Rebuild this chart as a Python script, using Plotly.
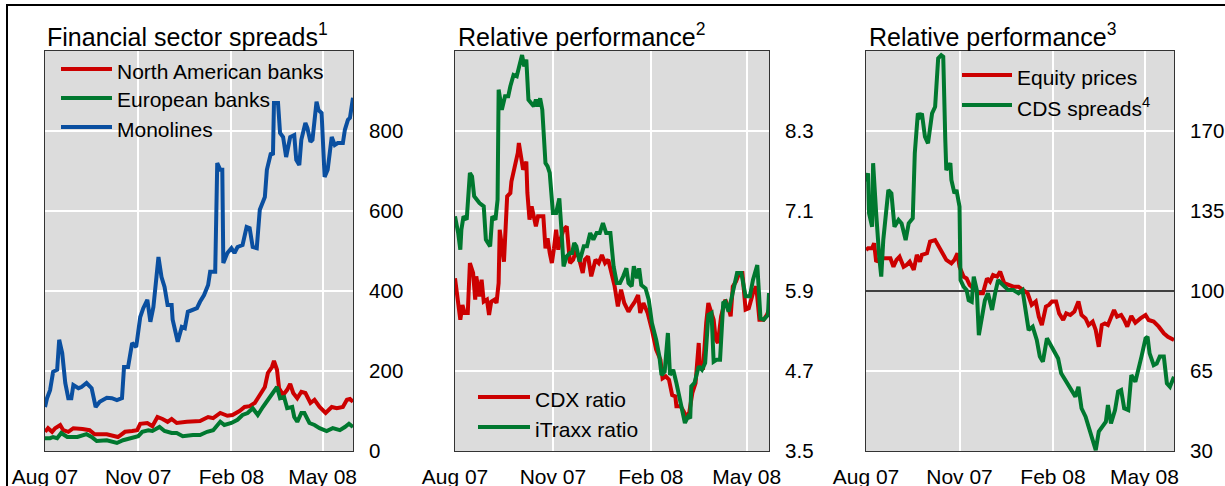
import pandas as pd
import plotly.graph_objects as go

W, H = 1225, 486
START = pd.Timestamp("2007-08-01")
FONT = "Liberation Sans, Arial, Helvetica, sans-serif"

RED = "#cc0000"
GREEN = "#00782f"
BLUE = "#0a4fa0"

# x values are days since 1 Aug 2007

# Panel 1: financial sector spreads (basis points)
na_banks_days = [0, 3, 7, 10, 15, 18, 23, 28, 37, 44,
                 49, 61, 72, 79, 86, 91, 94, 101, 106, 111,
                 116, 121, 125, 130, 140, 153, 161, 166, 173, 180,
                 185, 192, 197, 202, 207, 210, 214, 217, 220, 224,
                 226, 229, 231, 235, 239, 242, 245, 249, 253, 257,
                 262, 266, 271, 277, 283, 288, 294, 298, 301, 304]
na_banks = [48, 57, 48, 57, 65, 52, 48, 57, 55, 52,
            42, 42, 35, 48, 50, 52, 68, 70, 62, 85,
            80, 73, 80, 70, 73, 75, 85, 82, 95, 88,
            90, 100, 110, 112, 120, 132, 145, 160, 195, 210,
            225, 203, 157, 140, 153, 168, 145, 132, 148, 145,
            120, 128, 110, 95, 110, 107, 110, 128, 130, 123]

eu_banks_days = [0, 5, 8, 12, 16, 22, 32, 41, 46, 51,
                 61, 71, 77, 86, 92, 96, 102, 106, 113, 118,
                 125, 130, 136, 146, 153, 160, 166, 173, 177, 184,
                 190, 195, 200, 205, 210, 215, 220, 225, 229, 232,
                 236, 239, 244, 246, 249, 253, 256, 261, 266, 271,
                 278, 284, 291, 296, 300, 304]
eu_banks = [32, 32, 35, 32, 45, 35, 35, 42, 35, 25,
            27, 20, 27, 32, 37, 48, 52, 50, 60, 50,
            45, 45, 37, 40, 40, 48, 52, 73, 65, 70,
            78, 90, 95, 107, 90, 110, 128, 148, 160, 132,
            135, 107, 110, 85, 73, 95, 95, 70, 65, 57,
            50, 57, 52, 60, 68, 60]

monolines_days = [0, 2, 5, 8, 12, 14, 17, 20, 23, 26,
                  28, 33, 36, 41, 46, 50, 54, 61, 66, 71,
                  76, 78, 82, 86, 90, 94, 97, 101, 104, 107,
                  110, 112, 115, 118, 121, 125, 126, 131, 135, 138,
                  141, 145, 150, 153, 157, 161, 163, 168, 170, 173,
                  175, 176, 180, 184, 187, 190, 195, 199, 202, 205,
                  209, 212, 217, 219, 223, 225, 226, 230, 232, 235,
                  238, 242, 246, 248, 251, 253, 257, 259, 262, 264,
                  268, 270, 273, 276, 279, 283, 286, 289, 294, 296,
                  299, 301, 304]
monolines = [110, 132, 152, 198, 203, 278, 245, 170, 132, 132,
             165, 157, 160, 170, 157, 110, 123, 133, 132, 127,
             132, 210, 210, 270, 260, 335, 357, 378, 323, 360,
             435, 485, 435, 410, 365, 365, 328, 273, 310, 307,
             348, 352, 357, 373, 390, 415, 448, 448, 720, 703,
             703, 470, 495, 507, 495, 510, 515, 560, 557, 510,
             507, 603, 635, 703, 745, 740, 870, 870, 795, 785,
             735, 785, 790, 728, 715, 778, 820, 807, 773, 778,
             873, 852, 845, 685, 703, 785, 765, 770, 770, 803,
             828, 833, 883]

# Panel 2: relative performance ratios
cdx_days = [0, 3, 5, 7, 9, 12, 14, 17, 19, 20,
            23, 25, 27, 30, 32, 34, 37, 39, 41, 42,
            45, 46, 49, 52, 53, 56, 59, 60, 63, 64,
            67, 68, 70, 72, 74, 76, 78, 83, 85, 87,
            89, 91, 93, 95, 97, 99, 102, 105, 108, 111,
            113, 116, 120, 122, 125, 128, 132, 135, 138, 141,
            144, 147, 150, 153, 156, 159, 163, 166, 169, 172,
            174, 177, 181, 185, 189, 193, 195, 198, 201, 204,
            207, 208, 212, 215, 217, 220, 223, 226, 229, 230,
            233, 236, 238, 241, 243, 245, 247, 250, 254, 257,
            259, 261, 264, 267, 270, 273, 276, 280, 283, 286,
            290, 293, 295]
cdx_ratio = [6.09, 5.64, 5.47, 5.69, 5.57, 5.57, 6.32, 6.17, 5.77, 6.12,
             5.82, 6.07, 5.74, 5.77, 5.54, 5.74, 5.77, 5.72, 6.02, 6.82,
             6.47, 6.34, 7.32, 7.37, 7.54, 7.77, 7.97, 8.12, 7.82, 7.72,
             7.84, 7.37, 6.97, 7.17, 7.02, 6.87, 7.02, 7.02, 6.54, 6.69,
             6.47, 6.32, 6.54, 6.82, 6.52, 6.67, 6.82, 6.87, 6.32, 6.37,
             6.47, 6.42, 6.17, 6.37, 6.42, 6.12, 6.37, 6.32, 6.44, 6.32,
             6.37, 6.17, 5.97, 5.67, 5.92, 5.72, 5.59, 5.67, 5.74, 5.84,
             5.57, 5.72, 5.57, 5.32, 5.02, 4.87, 4.59, 4.62, 4.57, 4.34,
             4.32, 4.17, 4.17, 4.09, 4.02, 4.07, 4.37, 4.52, 5.12, 4.77,
             4.72, 5.42, 5.72, 5.57, 5.47, 5.17, 5.12, 5.52, 5.77, 5.64,
             5.52, 5.97, 6.04, 6.17, 6.17, 5.62, 5.64, 5.87, 5.97, 5.47,
             5.47, 5.54, 5.62]

itraxx_days = [0, 3, 5, 6, 8, 11, 14, 16, 18, 20,
               23, 27, 29, 33, 35, 38, 40, 41, 44, 47,
               50, 52, 55, 58, 60, 63, 65, 67, 69, 71,
               74, 76, 78, 80, 82, 85, 87, 89, 92, 95,
               98, 100, 102, 105, 108, 110, 112, 114, 117, 121,
               124, 127, 130, 133, 136, 139, 142, 146, 149, 152,
               155, 158, 161, 163, 166, 168, 171, 173, 175, 179,
               182, 185, 189, 192, 194, 197, 200, 202, 205, 208,
               211, 214, 216, 219, 221, 222, 225, 229, 232, 235,
               238, 241, 243, 246, 249, 252, 254, 257, 259, 262,
               265, 269, 273, 277, 280, 284, 287, 290, 294, 295]
itraxx_ratio = [7.02, 6.77, 6.52, 6.82, 7.02, 6.97, 7.67, 7.62, 7.32, 7.27,
                7.22, 7.17, 6.67, 6.57, 7.02, 6.97, 7.27, 8.92, 8.62, 8.82,
                8.82, 8.97, 9.14, 9.12, 9.27, 9.44, 9.27, 9.37, 8.77, 8.72,
                8.67, 8.77, 8.67, 8.79, 8.62, 7.82, 7.77, 7.67, 7.07, 7.07,
                7.29, 6.82, 6.27, 6.42, 6.47, 6.47, 6.62, 6.57, 6.34, 6.57,
                6.57, 6.77, 6.67, 6.77, 6.77, 6.92, 6.77, 6.77, 6.27, 6.02,
                6.02, 6.12, 6.24, 6.02, 5.97, 6.27, 6.09, 6.24, 5.99, 5.94,
                5.77, 5.42, 5.17, 4.92, 4.64, 4.69, 5.27, 4.64, 4.72, 4.52,
                4.27, 4.04, 3.92, 4.02, 3.99, 4.47, 4.52, 4.77, 4.72, 4.82,
                5.54, 5.57, 4.84, 4.87, 4.87, 5.72, 5.74, 5.59, 5.72, 5.94,
                6.17, 6.17, 5.82, 5.82, 6.07, 6.29, 5.49, 5.47, 5.54, 5.87]

# Panel 3: relative performance, index
equity_days = [0, 2, 6, 8, 10, 14, 19, 24, 27, 30,
               33, 37, 40, 43, 47, 50, 53, 55, 60, 63,
               68, 72, 76, 79, 84, 87, 90, 92, 96, 99,
               102, 107, 111, 115, 119, 122, 125, 129, 132, 136,
               140, 145, 150, 155, 159, 163, 167, 170, 173, 177,
               180, 183, 187, 190, 194, 197, 201, 205, 209, 212,
               216, 219, 223, 226, 229, 232, 235, 238, 241, 244,
               247, 251, 254, 257, 261, 265, 270, 275, 278, 283,
               288, 293, 297, 303]
equity_prices = [117.9, 118.7, 118.7, 120.9, 112.8, 114.3, 114.3, 114.3, 110.6, 113.6,
                 115.0, 110.6, 111.4, 112.8, 109.2, 115.8, 112.8, 115.8, 116.5, 121.6,
                 122.3, 119.4, 115.8, 113.6, 112.1, 113.6, 116.5, 110.6, 106.3, 105.5,
                 102.6, 100.4, 99.0, 99.0, 105.5, 104.1, 107.0, 106.3, 108.5, 103.4,
                 102.6, 101.9, 101.9, 100.4, 99.0, 93.9, 95.4, 88.8, 85.1, 93.2,
                 93.9, 95.4, 95.4, 90.2, 87.3, 90.2, 89.5, 91.0, 95.4, 89.5,
                 88.0, 85.1, 86.6, 82.9, 75.6, 85.1, 85.8, 85.1, 88.0, 91.7,
                 88.8, 89.5, 87.3, 84.4, 89.1, 86.1, 88.0, 89.5, 87.3, 86.6,
                 84.4, 81.5, 80.0, 78.6]

cds_days = [0, 2, 3, 6, 7, 9, 10, 13, 15, 17,
            19, 22, 25, 28, 32, 35, 39, 42, 46, 48,
            51, 53, 55, 58, 61, 63, 65, 68, 71, 74,
            76, 78, 79, 83, 84, 87, 89, 92, 93, 96,
            99, 101, 104, 106, 109, 111, 114, 117, 120, 124,
            127, 130, 133, 136, 140, 145, 150, 154, 157, 160,
            164, 168, 171, 174, 178, 181, 184, 189, 192, 196,
            199, 202, 206, 209, 212, 216, 219, 223, 226, 229,
            233, 236, 238, 241, 245, 248, 251, 254, 258, 261,
            265, 268, 271, 275, 277, 279, 283, 286, 289, 293,
            296, 299, 303]
cds_spreads = [147.8, 151.5, 134.0, 128.1, 155.9, 136.9, 134.0, 115.0, 106.3, 122.3,
               132.5, 144.2, 142.7, 128.1, 131.1, 129.6, 122.3, 129.6, 131.8, 160.2,
               177.7, 176.3, 177.7, 167.5, 164.6, 171.9, 177.7, 180.6, 201.8, 203.2,
               202.5, 166.1, 152.9, 155.9, 148.6, 142.7, 144.2, 136.9, 104.8, 101.9,
               100.4, 96.0, 95.3, 106.3, 100.4, 80.7, 87.3, 96.0, 99.0, 91.7,
               99.0, 104.8, 103.4, 101.9, 100.4, 100.4, 99.0, 100.4, 92.4, 82.9,
               84.4, 78.6, 71.3, 69.1, 79.3, 77.1, 74.9, 70.5, 64.0, 61.1,
               58.1, 56.0, 53.8, 58.1, 48.7, 45.0, 40.6, 34.8, 30.4, 38.5,
               41.4, 42.8, 50.1, 42.1, 47.9, 56.0, 56.7, 48.7, 47.9, 63.2,
               60.3, 65.4, 71.3, 79.3, 80.0, 72.7, 67.6, 68.3, 71.3, 71.3,
               59.6, 58.1, 62.5]

spread_ticks = [0, 200, 400, 600, 800]
ratio_ticks = [3.5, 4.7, 5.9, 7.1, 8.3]
index_ticks = [30, 65, 100, 135, 170]
index_base = 100
month_ticks = ["2007-08-01", "2007-11-01", "2008-02-01", "2008-05-01"]


def to_dates(days):
    return START + pd.to_timedelta(days, unit="D")


def px(x):
    return x / W


def py(y):
    return 1 - y / H


panels = [
    # left px, right px, y range, y ticks, x end, title, title x
    (45, 353, [0, 1000], spread_ticks, "2008-05-31", "Financial sector spreads<sup>1</sup>", 45),
    (455, 769, [3.5, 9.5], ratio_ticks, "2008-05-22", "Relative performance<sup>2</sup>", 456),
    (866, 1174, [30, 205], index_ticks, "2008-05-30", "Relative performance<sup>3</sup>", 867),
]

fig = go.Figure()

# base line at 100 in the third panel, drawn under the series
fig.add_trace(go.Scatter(
    x=[START, pd.Timestamp(panels[2][4])], y=[index_base, index_base],
    mode="lines", line=dict(color="black", width=1.3),
    xaxis="x3", yaxis="y3", showlegend=False, hoverinfo="skip",
))

# (axis number, days, values, colour)
series = [
    (1, na_banks_days, na_banks, RED),
    (1, eu_banks_days, eu_banks, GREEN),
    (1, monolines_days, monolines, BLUE),
    (2, cdx_days, cdx_ratio, RED),
    (2, itraxx_days, itraxx_ratio, GREEN),
    (3, equity_days, equity_prices, RED),
    (3, cds_days, cds_spreads, GREEN),
]
for n, days, vals, color in series:
    sfx = "" if n == 1 else str(n)
    fig.add_trace(go.Scatter(
        x=to_dates(days), y=vals, mode="lines",
        line=dict(color=color, width=4),
        xaxis="x" + sfx, yaxis="y" + sfx, showlegend=False,
    ))

layout = dict(
    width=W, height=H, autosize=False,
    margin=dict(l=0, r=0, t=0, b=0, autoexpand=False),
    paper_bgcolor="white",
    plot_bgcolor="#dcdcdc",
    font=dict(family=FONT, color="black", size=21),
    showlegend=False,
)
annotations = []
shapes = []
for i, (left, right, yr, yt, xend, title, tx) in enumerate(panels, start=1):
    sfx = "" if i == 1 else str(i)
    layout["xaxis" + sfx] = dict(
        domain=[px(left), px(right)], anchor="y" + sfx,
        type="date", range=["2007-08-01", xend], automargin=False,
        tickvals=month_ticks, tickformat="%b %y", ticks="",
        showgrid=True, gridcolor="white", gridwidth=1.5,
        showline=True, mirror=True, linecolor="#333333", linewidth=1,
        tickfont=dict(size=21), ticklabelstandoff=7,
    )
    layout["yaxis" + sfx] = dict(
        domain=[py(451), py(51)], anchor="x" + sfx, side="right",
        range=yr, tickvals=yt, ticks="", automargin=False,
        showgrid=True, gridcolor="white", gridwidth=1.5, zeroline=False,
        showline=True, mirror=True, linecolor="#333333", linewidth=1,
        tickfont=dict(size=20.5), ticklabelstandoff=11,
    )
    annotations.append(dict(
        text=title, x=px(tx), y=py(35), xref="paper", yref="paper",
        xanchor="left", yanchor="middle", showarrow=False,
        font=dict(size=25),
    ))

# hand-placed legends: (line x0, line x1, y, label, colour)
legend_items = [
    (61, 112, 69, "North American banks", RED),
    (61, 112, 98, "European banks", GREEN),
    (61, 112, 127, "Monolines", BLUE),
    (478, 530, 397, "CDX ratio", RED),
    (478, 530, 427, "iTraxx ratio", GREEN),
    (962, 1012, 75, "Equity prices", RED),
    (962, 1012, 105, "CDS spreads<sup>4</sup>", GREEN),
]
for x0, x1, y, label, color in legend_items:
    shapes.append(dict(
        type="line", xref="paper", yref="paper",
        x0=px(x0), x1=px(x1), y0=py(y), y1=py(y),
        line=dict(color=color, width=4),
    ))
    annotations.append(dict(
        text=label, x=px(x1 + 3), y=py(y + 2), xref="paper", yref="paper",
        xanchor="left", yanchor="middle", showarrow=False,
        font=dict(size=21),
    ))

# page frame
shapes.append(dict(type="line", xref="paper", yref="paper",
                   x0=px(6), x1=1, y0=py(5), y1=py(5),
                   line=dict(color="black", width=2)))
shapes.append(dict(type="line", xref="paper", yref="paper",
                   x0=px(7), x1=px(7), y0=py(5), y1=0,
                   line=dict(color="black", width=2)))

layout["annotations"] = annotations
layout["shapes"] = shapes
fig.update_layout(**layout)

# the page is photographed at exactly the figure size, so drop the body margin
fig.write_html("out.html", config={"displayModeBar": False},
               post_script="document.body.style.margin = '0';")
